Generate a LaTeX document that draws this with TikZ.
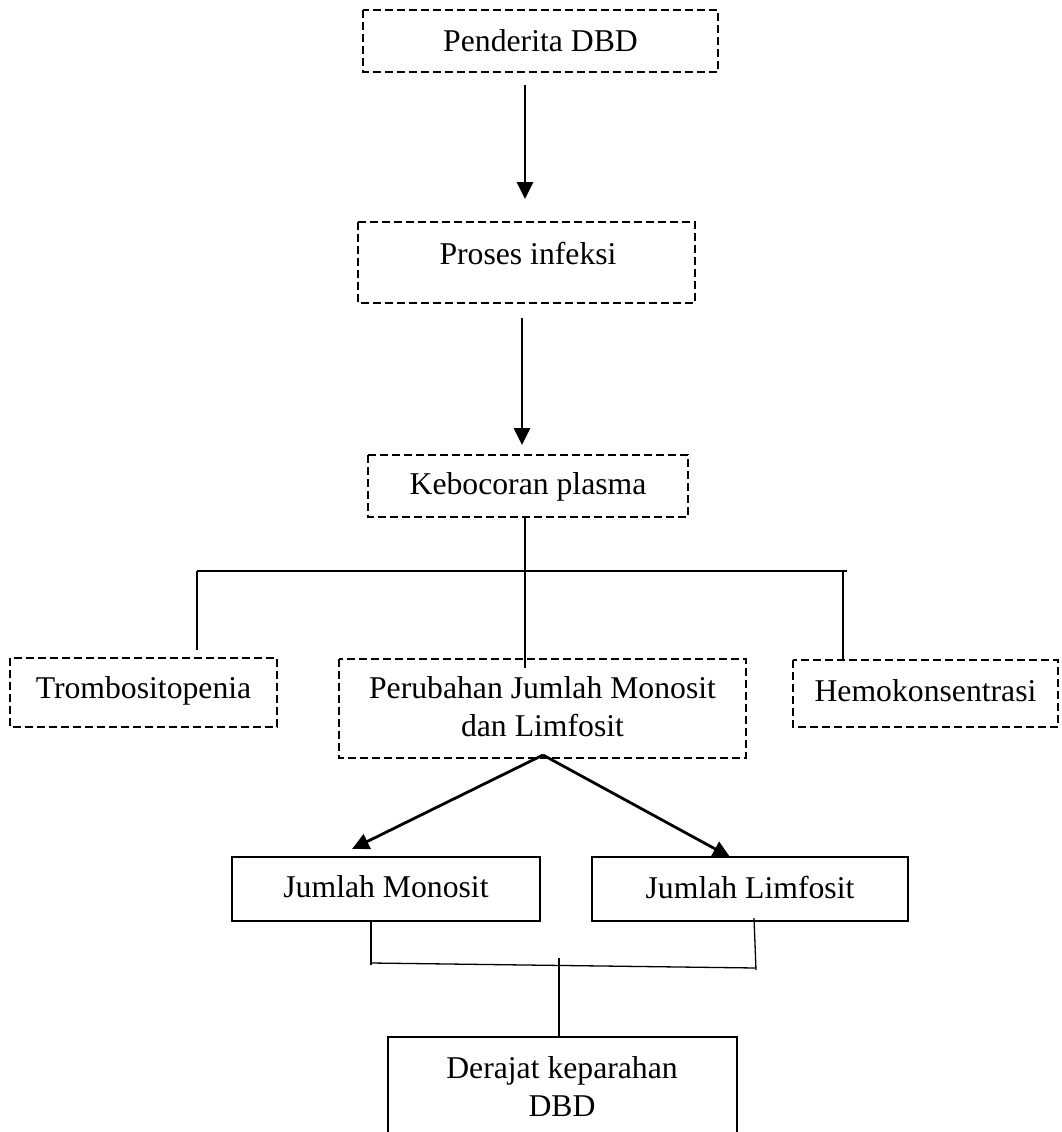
\documentclass[tikz,border=0pt]{standalone}
\usepackage{fontspec}
\setmainfont{Liberation Serif}
\usetikzlibrary{arrows.meta,calc}
\begin{document}
\begin{tikzpicture}[x=1pt,y=-1pt,
  txt/.style={font=\fontsize{31.7}{38}\selectfont,align=center,inner sep=0pt},
  dbox/.style={draw,line width=1.3pt,dash pattern=on 8pt off 4pt},
  sbox/.style={draw,line width=1.3pt},
  conn/.style={line width=1.3pt},
  arr/.style={line width=2.8pt,-{Triangle[length=17pt,width=16pt]}}]
\useasboundingbox (0,0) rectangle (1062,1132);
% boxes
\draw[dbox] (363,10) rectangle (718,72);
\node[txt] (b1) at (540.5,41) {Penderita DBD};
\draw[dbox] (358,222) rectangle (695,303);
\node[txt] (b2) at (528,253) {Proses infeksi};
\draw[dbox] (368,455) rectangle (688,517);
\node[txt] (b3) at (528,487) {Kebocoran plasma};
\draw[dbox] (10,658) rectangle (277,727);
\node[txt] (tr) at (143.5,691) {Trombositopenia};
\draw[dbox] (339,659) rectangle (746,758);
\node[txt] (pe) at (542.5,707) {Perubahan Jumlah Monosit\\dan Limfosit};
\draw[dbox] (793,660) rectangle (1058,727);
\node[txt] (he) at (925.5,691) {Hemokonsentrasi};
\draw[sbox] (232,857) rectangle (540,921);
\node[txt] (jm) at (386,887) {Jumlah Monosit};
\draw[sbox] (592,857) rectangle (908,921);
\node[txt] (jl) at (750,887) {Jumlah Limfosit};
\draw[sbox] (388,1140) -- (388,1037) -- (737,1037) -- (737,1140);
\node[txt] (de) at (562,1087) {Derajat keparahan\\DBD};
% connector coordinates
\coordinate (a1s) at (525,85);
\coordinate (a1e) at (525,199);
\coordinate (a2s) at (522,318);
\coordinate (a2e) at (522,445);
\coordinate (v3s) at (525,517);
\coordinate (v3e) at (525,668);
\coordinate (hl) at (197,571);
\coordinate (hr) at (847,571);
\coordinate (lv) at (197,650);
\coordinate (rvt) at (843,571);
\coordinate (rv) at (843,660);
\coordinate (ap) at (543,755);
\coordinate (al) at (352,849);
\coordinate (ar) at (730,857);
\coordinate (m1) at (371,921);
\coordinate (m2) at (371,965);
\coordinate (bl) at (371,963);
\coordinate (br) at (756,968);
\coordinate (r1) at (754,918);
\coordinate (r2) at (756,970);
\coordinate (c1) at (559,958);
\coordinate (c2) at (559,1038);
% connectors
\draw[arr] (a1s) -- (a1e);
\draw[arr] (a2s) -- (a2e);
\draw[conn] (v3s) -- (v3e);
\draw[conn] (hl) -- (hr);
\draw[conn] (hl) -- (lv);
\draw[conn] (rvt) -- (rv);
\draw[arr] (ap) -- (al);
\draw[arr] (ap) -- (ar);
\draw[conn] (m1) -- (m2);
\draw[conn] (bl) -- (br);
\draw[conn] (r1) -- (r2);
\draw[conn] (c1) -- (c2);
\end{tikzpicture}
\end{document}
